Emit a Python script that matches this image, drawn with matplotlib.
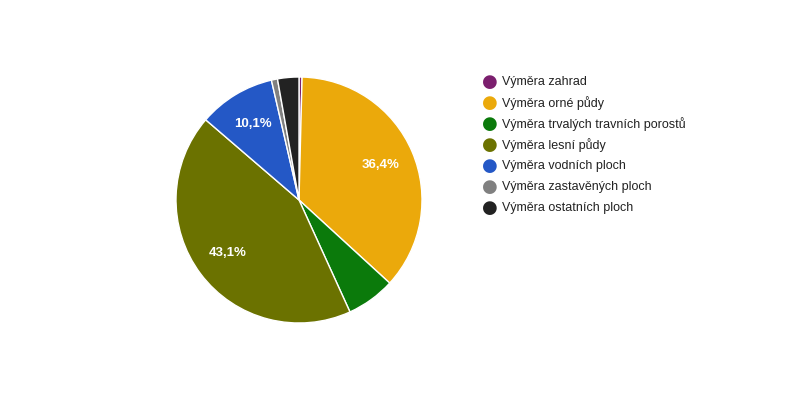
import matplotlib.pyplot as plt
import numpy as np

labels = ['Výměra zahrad', 'Výměra orné půdy', 'Výměra trvalých travních porostů',
          'Výměra lesní půdy', 'Výměra vodních ploch', 'Výměra zastavěných ploch',
          'Výměra ostatních ploch']
values = [0.4, 36.4, 6.4, 43.1, 10.1, 0.8, 2.8]
colors = ['#7b1f6e', '#eba90b', '#0b7a0b', '#6b7200', '#2458c6', '#808080', '#222222']

fig = plt.figure(figsize=(8, 4), dpi=100)
ax = fig.add_axes([176 / 800, 77 / 400, 246 / 800, 246 / 400])

wedges = ax.pie(values, colors=colors, startangle=90, counterclock=False,
                wedgeprops=dict(edgecolor='white', linewidth=1))[0]
total = sum(values)
ang = 90.0
for v in values:
    mid = ang - v / total * 360 / 2
    ang -= v / total * 360
    if v >= 10:
        r = 0.72
        ax.text(r * np.cos(np.radians(mid)), r * np.sin(np.radians(mid)),
                f'{v:.1f}'.replace('.', ',') + '%', ha='center', va='center',
                color='white', fontsize=9.5, fontweight='bold', family='Liberation Sans')
ax.set_xlim(-1, 1)
ax.set_ylim(-1, 1)
ax.set_aspect('equal')

for i, (lab, c) in enumerate(zip(labels, colors)):
    y = 1 - (82 + i * 21) / 400
    fig.text(490 / 800, y, '\u25CF', color=c, fontsize=13, ha='center', va='center')
    fig.text(502 / 800, y, lab, color='#222222', fontsize=9, va='center', family='Liberation Sans')

fig.savefig('out.png', dpi=100)
